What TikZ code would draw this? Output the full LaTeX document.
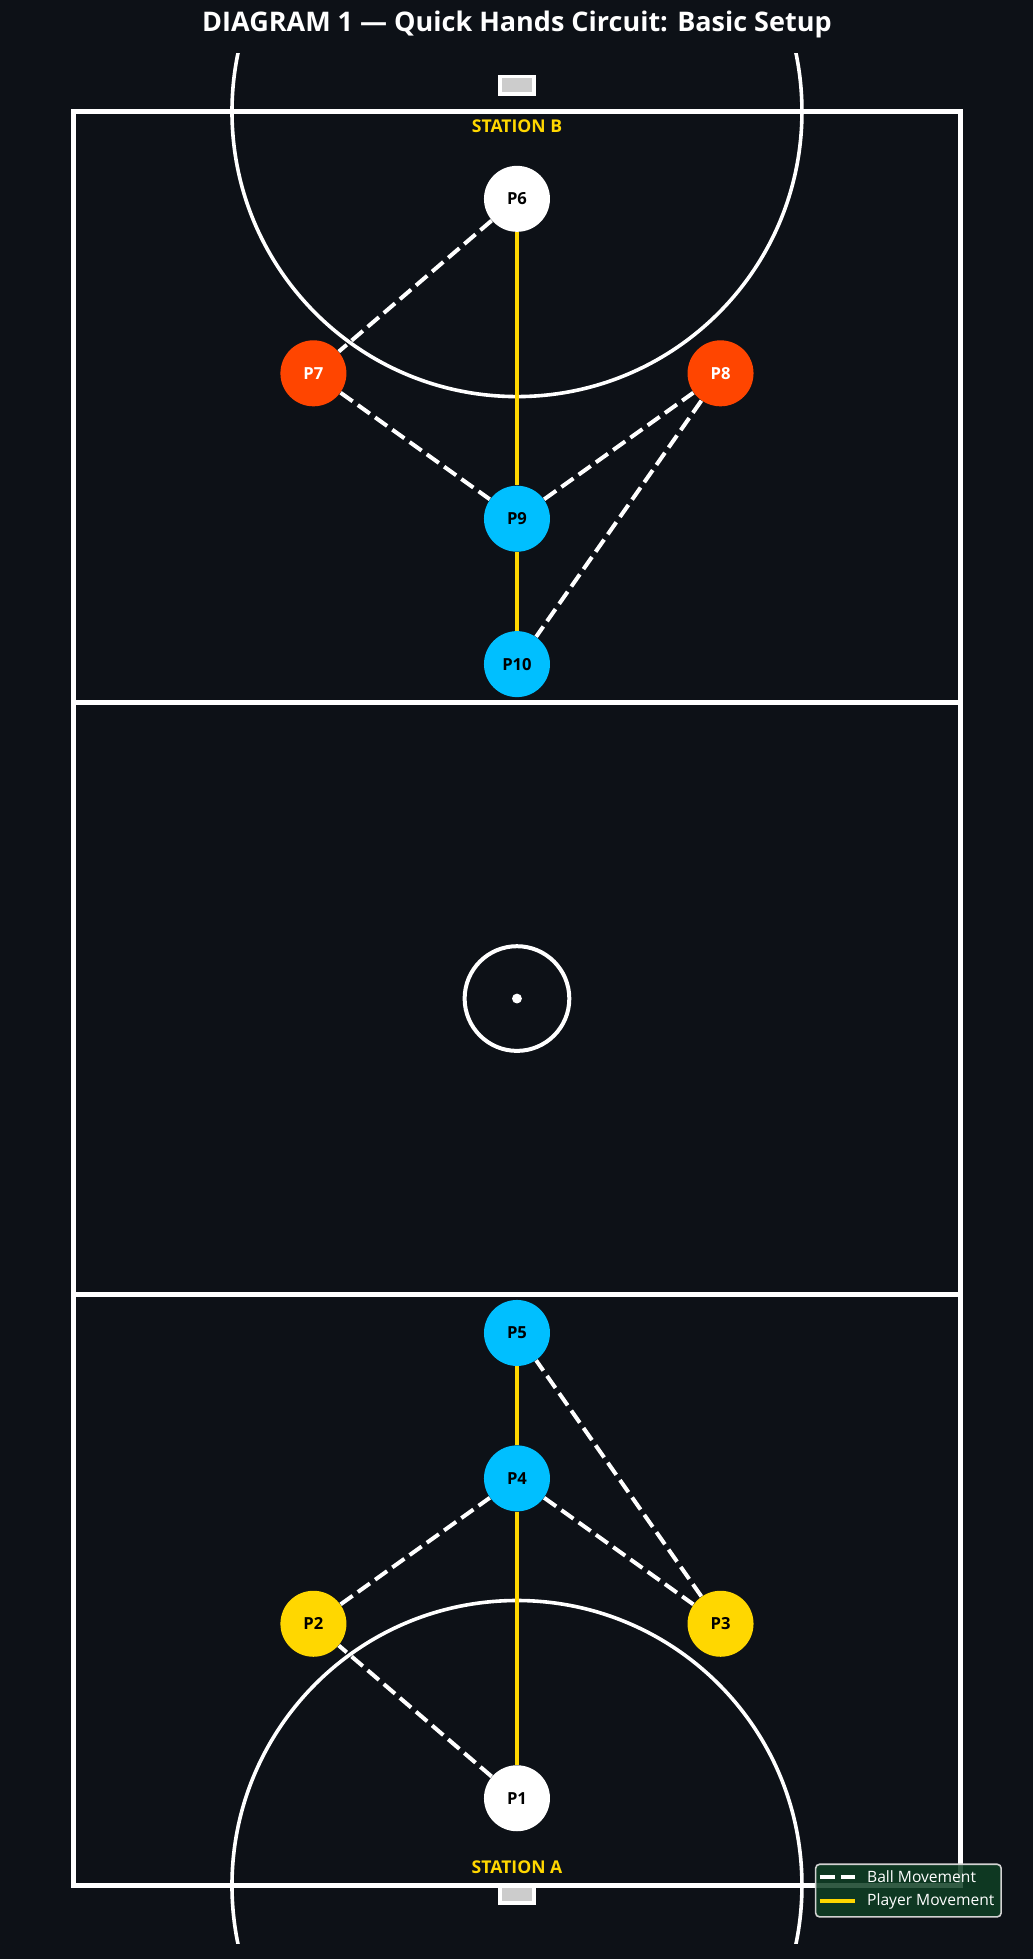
\documentclass[tikz,border=0pt]{standalone}
\usepackage{fontspec}
\setmainfont{Open Sans}
\definecolor{bgdark}{HTML}{0D1117}
\definecolor{gold}{HTML}{FFD700}
\definecolor{skyblue}{HTML}{00BFFF}
\definecolor{redorange}{HTML}{FF4500}
\definecolor{legendgreen}{HTML}{0F3F24}
\definecolor{goalgrey}{HTML}{CCCCCC}

\begin{document}
\begin{tikzpicture}[x=29.08pt,y=29.08pt,
	player/.style={circle,minimum size=33pt,inner sep=0pt,font=\bfseries\fontsize{8.3}{10}\selectfont},
	plwhite/.style={player,fill=white,text=black},
	plgold/.style={player,fill=gold,text=black},
	plblue/.style={player,fill=skyblue,text=black},
	plred/.style={player,fill=redorange,text=white},
	ball/.style={draw=white,line width=2pt,dash pattern=on 7.4pt off 3.2pt},
	run/.style={draw=gold,line width=2.3pt},
	court/.style={draw=white,line width=2.5pt},
	arcline/.style={draw=white,line width=1.8pt},
	station/.style={text=gold,font=\bfseries\fontsize{8.8}{10}\selectfont},
	legtext/.style={anchor=west,text=white,inner sep=0pt,font=\fontsize{7.8}{9}\selectfont}]
	% page and background
	\fill[bgdark] (-1.2638,-1.2638) rectangle (16.497,32.419);
	\useasboundingbox (-1.2638,-1.2638) rectangle (16.497,32.419);
	\node[text=white,font=\bfseries\fontsize{13.5}{16}\selectfont] (title) at (7.625,31.99) {DIAGRAM 1 — Quick Hands Circuit: Basic Setup};

	% goals
	\filldraw[fill=goalgrey,draw=white,line width=1.8pt] (7.335,30.8) rectangle (7.915,31.1);
	\filldraw[fill=goalgrey,draw=white,line width=1.8pt] (7.335,-0.3) rectangle (7.915,0);

	% court
	\draw[court] (0,0) rectangle (15.25,30.5);
	\draw[court] (0,10.1667) -- (15.25,10.1667);
	\draw[court] (0,20.3333) -- (15.25,20.3333);
	\begin{scope}
		\clip (-1.25,-1) rectangle (16.5,31.5);
		\draw[arcline] (7.625,30.5) circle (4.9);
		\draw[arcline] (7.625,0) circle (4.9);
	\end{scope}
	\draw[draw=white,line width=2pt] (7.625,15.25) circle (0.9);
	\fill[white] (7.625,15.25) circle (0.085);

	\node[station] (stB) at (7.625,30.25) {STATION B};
	\node[station] (stA) at (7.625,0.32) {STATION A};

	% station B players
	\node[plwhite] (P6) at (7.625,29) {P6};
	\node[plred] (P7) at (4.125,26) {P7};
	\node[plred] (P8) at (11.125,26) {P8};
	\node[plblue] (P9) at (7.625,23.5) {P9};
	\node[plblue] (P10) at (7.625,21) {P10};

	% station A players
	\node[plwhite] (P1) at (7.625,1.5) {P1};
	\node[plgold] (P2) at (4.125,4.5) {P2};
	\node[plgold] (P3) at (11.125,4.5) {P3};
	\node[plblue] (P4) at (7.625,7) {P4};
	\node[plblue] (P5) at (7.625,9.5) {P5};

	\path[run]
	(P6) edge (P9)
	(P9) edge (P10)
	(P1) edge (P4)
	(P4) edge (P5);
	\path[ball]
	(P6) edge (P7)
	(P7) edge (P9)
	(P9) edge (P8)
	(P8) edge (P10)
	(P1) edge (P2)
	(P2) edge (P4)
	(P4) edge (P3)
	(P3) edge (P5);

	% legend
	\filldraw[fill=legendgreen,fill opacity=0.85,draw=white!65!gray,line width=0.8pt,rounded corners=2pt] (12.76,-0.54) rectangle (15.95,0.365);
	\coordinate (lb1) at (12.83,0.151);
	\coordinate (lb2) at (13.44,0.151);
	\coordinate (lr1) at (12.83,-0.267);
	\coordinate (lr2) at (13.44,-0.267);
	\draw[ball] (lb1) -- (lb2);
	\draw[run] (lr1) -- (lr2);
	\node[legtext] (lball) at (13.64,0.151) {Ball Movement};
	\node[legtext] (lrun) at (13.64,-0.267) {Player Movement};
\end{tikzpicture}
\end{document}
